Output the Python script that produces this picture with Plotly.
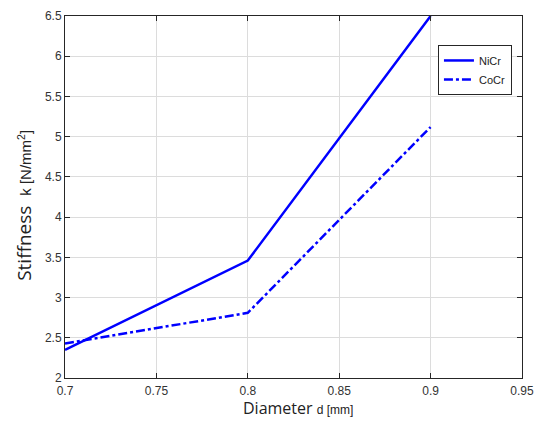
import plotly.graph_objects as go

diameter = [0.7, 0.8, 0.9]
nicr = [2.35, 3.46, 6.5]
cocr = [2.43, 2.81, 5.12]

fig = go.Figure()
fig.add_trace(go.Scatter(x=diameter, y=nicr, mode="lines", name="NiCr",
                         line=dict(color="#0000ff", width=2.5)))
fig.add_trace(go.Scatter(x=diameter, y=cocr, mode="lines", name="CoCr",
                         line=dict(color="#0000ff", width=2.5, dash="dashdot")))

axis_common = dict(showline=True, linecolor="#262626", linewidth=1, mirror="ticks",
                   ticks="inside", ticklen=5, tickcolor="#262626", automargin=False,
                   showgrid=True, gridcolor="#dcdcdc", gridwidth=1, zeroline=False,
                   ticklabeloverflow="allow",
                   tickfont=dict(family="Liberation Sans, Arial", size=12, color="#333333"))

fig.update_layout(
    width=534, height=423,
    margin=dict(l=65, r=12, t=16, b=45),
    paper_bgcolor="white", plot_bgcolor="white",
    xaxis=dict(range=[0.7, 0.95], tickvals=[0.7, 0.75, 0.8, 0.85, 0.9, 0.95],
               ticktext=["0.7", "0.75", "0.8", "0.85", "0.9", "0.95"],
               ticklabelstandoff=2, **axis_common),
    yaxis=dict(range=[2, 6.5], tickvals=[2, 2.5, 3, 3.5, 4, 4.5, 5, 5.5, 6, 6.5],
               ticktext=["2", "2.5", "3", "3.5", "4", "4.5", "5", "5.5", "6", "6.5"], **axis_common),
    legend=dict(x=0.978, y=0.92, xanchor="right", yanchor="top",
                bgcolor="white", bordercolor="#262626", borderwidth=1,
                font=dict(family="Liberation Sans, Arial", size=11, color="#222222"),
                tracegroupgap=0, itemwidth=30),
    showlegend=True,
)

fig.add_annotation(xref="paper", yref="paper", x=0.51, y=-0.12, yanchor="bottom", showarrow=False,
                   text="Diameter <span style='font-size:12px;font-family:Liberation Sans'>d [mm]</span>",
                   font=dict(family="Open Sans", size=16, color="#222222"))
fig.add_annotation(xref="paper", yref="paper", x=-0.09, y=0.478, xanchor="center", yanchor="middle",
                   textangle=-90, showarrow=False,
                   text="Stiffness  <span style='font-size:15px;font-family:Liberation Sans'>k [N/mm<sup>2</sup>]</span>",
                   font=dict(family="Open Sans", size=19, color="#222222"))

fig.write_html("out.html")
